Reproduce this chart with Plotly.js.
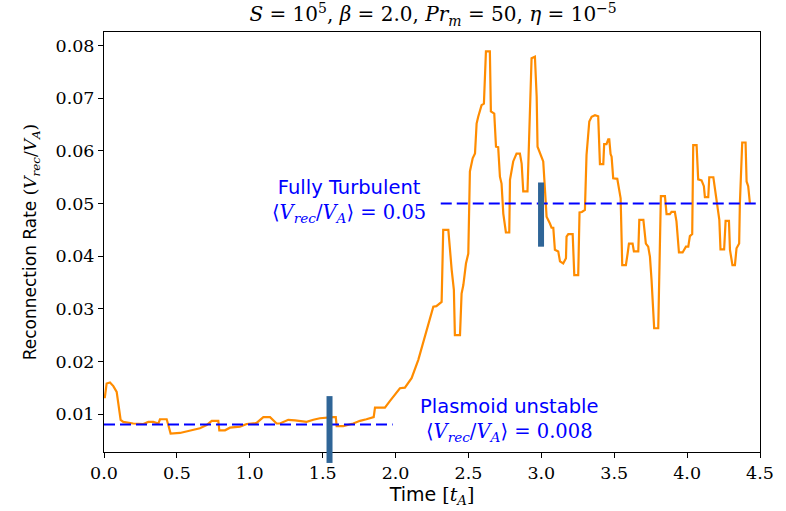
<!DOCTYPE html>
<html>
<head>
<meta charset="utf-8">
<script src="https://cdn.plot.ly/plotly-3.0.1.min.js"></script>
<style>html,body{margin:0;padding:0;background:#fff;}#chart{width:786px;height:511px;}</style>
</head>
<body>
<div id="chart"></div>
<script>
// Reconnection rate time series
const time = [0.005,0.018,0.041,0.064,0.087,0.098,0.114,0.132,0.20,0.27,0.304,0.338,0.373,0.384,0.43,0.441,0.457,0.521,0.59,0.658,0.704,0.739,0.784,0.791,0.83,0.864,0.933,0.979,1.047,1.093,1.139,1.184,1.207,1.264,1.31,1.39,1.436,1.481,1.573,1.59,1.596,1.641,1.71,1.756,1.80,1.85,1.859,1.927,1.962,2.03,2.064,2.11,2.156,
2.179,2.259,2.28,2.316,2.327,2.362,2.385,2.40,2.407,2.442,2.453,2.465,2.483,2.499,2.51,2.529,2.545,2.556,2.567,2.59,2.606,2.62,2.647,2.654,2.677,2.689,2.704,2.716,2.727,2.739,2.757,2.78,2.785,2.807,2.83,2.853,2.865,2.876,2.905,2.922,2.933,2.956,2.968,2.974,2.997,3.013,3.025,3.036,3.059,3.07,3.082,3.093,3.116,3.128,3.15,3.169,3.173,3.185,3.215,3.226,3.253,3.262,
3.278,3.299,3.31,3.329,3.345,3.368,3.39,3.402,3.425,3.431,3.447,3.459,3.466,3.475,3.482,3.493,3.521,3.535,3.544,3.555,3.58,3.592,3.601,3.626,3.635,3.665,3.672,3.70,3.717,3.733,3.745,3.756,3.774,3.802,3.813,3.82,3.848,3.859,3.882,3.893,3.916,3.927,3.944,3.969,3.992,4.008,4.019,4.035,4.042,4.065,4.076,4.099,4.115,4.122,4.145,4.152,4.18,4.191,4.202,4.221,4.229,4.254,4.264,4.287,4.294,4.311,4.328,4.339,4.357,4.362,4.378,4.401,4.408,4.419,4.431];
const rate = [0.0130,0.0158,0.0160,0.0153,0.0142,0.0120,0.0089,0.0085,0.0082,0.0081,0.0085,0.0085,0.0082,0.0090,0.0090,0.0079,0.0063,0.0064,0.0068,0.0073,0.0079,0.0087,0.0087,0.0069,0.0069,0.0074,0.0076,0.0081,0.0083,0.0094,0.0094,0.0082,0.0082,0.0089,0.0088,0.0085,0.0089,0.0092,0.0094,0.0094,0.0077,0.0077,0.0082,0.0087,0.0090,0.0094,0.0112,0.0112,0.0125,0.0149,0.0150,0.0168,0.0203,
0.0225,0.0304,0.0305,0.0313,0.0450,0.0450,0.0374,0.0336,0.0250,0.0250,0.0329,0.0345,0.0386,0.0405,0.0561,0.0586,0.0595,0.0652,0.0665,0.0687,0.0690,0.0789,0.0789,0.0675,0.0671,0.0608,0.0607,0.0551,0.0538,0.0481,0.0445,0.0445,0.0545,0.0580,0.0595,0.0595,0.0576,0.0523,0.0523,0.0672,0.0776,0.0779,0.0703,0.0608,0.0589,0.0580,0.0526,0.0475,0.0462,0.0454,0.0454,0.0412,0.0409,0.0390,0.0386,0.0396,0.0437,0.0442,0.0442,0.0364,0.0364,0.0483,
0.0484,0.0488,0.0592,0.0656,0.0665,0.0668,0.0666,0.0575,0.0575,0.0613,0.0613,0.0622,0.0622,0.0594,0.0589,0.0548,0.0547,0.0526,0.0510,0.0383,0.0383,0.0405,0.0424,0.0424,0.0409,0.0409,0.0469,0.0469,0.0424,0.0418,0.0399,0.0355,0.0263,0.0263,0.0418,0.0514,0.0514,0.0480,0.0480,0.0484,0.0484,0.0466,0.0407,0.0407,0.0418,0.0418,0.0438,0.0442,0.0611,0.0611,0.0546,0.0544,0.0533,0.0512,0.0512,0.0550,0.0550,0.0526,0.0507,0.0469,0.0413,0.0413,0.0467,0.0467,0.0412,0.0383,0.0383,0.0415,0.0424,0.0500,0.0616,0.0616,0.0542,0.0533,0.0500];

// Regime mean levels
const regimeNames = ['Plasmoid unstable', 'Fully Turbulent'];
const regimeMean = [0.008, 0.05];
const regimeStart = [0.0, 2.31];
const regimeEnd = [1.98, 4.5];
const regimeLabelT = [2.78, 1.68];
const regimeLabelV = [0.00885, 0.0505];

// Marker bars
const barT = [1.547, 2.998];
const barLo = [0.0007, 0.0418];
const barHi = [0.0134, 0.0540];

const xRange = [0, 4.5];
const yRange = [0.00278, 0.0826];
const xTicks = [0, 0.5, 1.0, 1.5, 2.0, 2.5, 3.0, 3.5, 4.0, 4.5];
const yTicks = [0.01, 0.02, 0.03, 0.04, 0.05, 0.06, 0.07, 0.08];

const serif = 'DejaVu Serif, serif';
const sans = 'DejaVu Sans, sans-serif';
const mathV = '<span style="font-family:DejaVu Serif">⟨<i>V<sub>rec</sub></i>/<i>V<sub>A</sub></i>⟩ = ';

const traces = [
  {x: time, y: rate, type: 'scatter', mode: 'lines', line: {color: '#ff8c00', width: 2.2}, hoverinfo: 'skip'}
];
regimeMean.forEach((m, i) => {
  traces.push({x: [regimeStart[i], regimeEnd[i]], y: [m, m], type: 'scatter', mode: 'lines',
    line: {color: '#0000ff', width: 2, dash: '11px,5px'}, hoverinfo: 'skip'});
});

const toPaper = v => (v - yRange[0]) / (yRange[1] - yRange[0]);
const shapes = barT.map((t, i) => ({type: 'line', xref: 'x', yref: 'paper', x0: t, x1: t,
  y0: toPaper(barLo[i]), y1: toPaper(barHi[i]), line: {color: '#2f6597', width: 6}, layer: 'above'}));

const annotations = regimeNames.map((n, i) => ({
  x: regimeLabelT[i], y: regimeLabelV[i], xref: 'x', yref: 'y', showarrow: false,
  xanchor: 'center', yanchor: 'middle', align: 'center',
  text: n + '<br>' + mathV + regimeMean[i] + '</span>',
  font: {family: sans, size: 19.5, color: '#0000ff'}
}));

const layout = {
  width: 786, height: 511,
  margin: {l: 104, r: 26, t: 32, b: 59, pad: 0},
  paper_bgcolor: '#fff', plot_bgcolor: '#fff',
  showlegend: false,
  title: {text: '<i>S</i> = 10<sup>5</sup>, <i>β</i> = 2.0, <i>Pr<sub>m</sub></i> = 50, <i>η</i> = 10<sup>−5</sup>',
    font: {family: serif, size: 20, color: '#000'}, x: 0.551, xanchor: 'center', y: 0.972, yanchor: 'middle'},
  xaxis: {range: xRange, tickvals: xTicks, ticktext: xTicks.map(v => v.toFixed(1)),
    showgrid: false, zeroline: false, showline: true, mirror: true, linecolor: '#000', linewidth: 1,
    ticks: 'outside', ticklen: 5, tickcolor: '#000', tickfont: {family: serif, size: 17.5, color: '#000'},
    title: {text: 'Time <span style="font-family:DejaVu Serif">[<i>t<sub>A</sub></i>]</span>', font: {family: sans, size: 19, color: '#000'}, standoff: 5}},
  yaxis: {range: yRange, tickvals: yTicks, ticktext: yTicks.map(v => v.toFixed(2)),
    showgrid: false, zeroline: false, showline: true, mirror: true, linecolor: '#000', linewidth: 1,
    ticks: 'outside', ticklen: 5, tickcolor: '#000', tickfont: {family: serif, size: 17.5, color: '#000'},
    title: {text: 'Reconnection Rate <span style="font-family:DejaVu Serif">(<i>V<sub>rec</sub></i>/<i>V<sub>A</sub></i>)</span>', font: {family: sans, size: 17, color: '#000'}, standoff: 14}},
  shapes: shapes,
  annotations: annotations
};

Plotly.newPlot('chart', traces, layout, {staticPlot: true, displayModeBar: false});
</script>
</body>
</html>
